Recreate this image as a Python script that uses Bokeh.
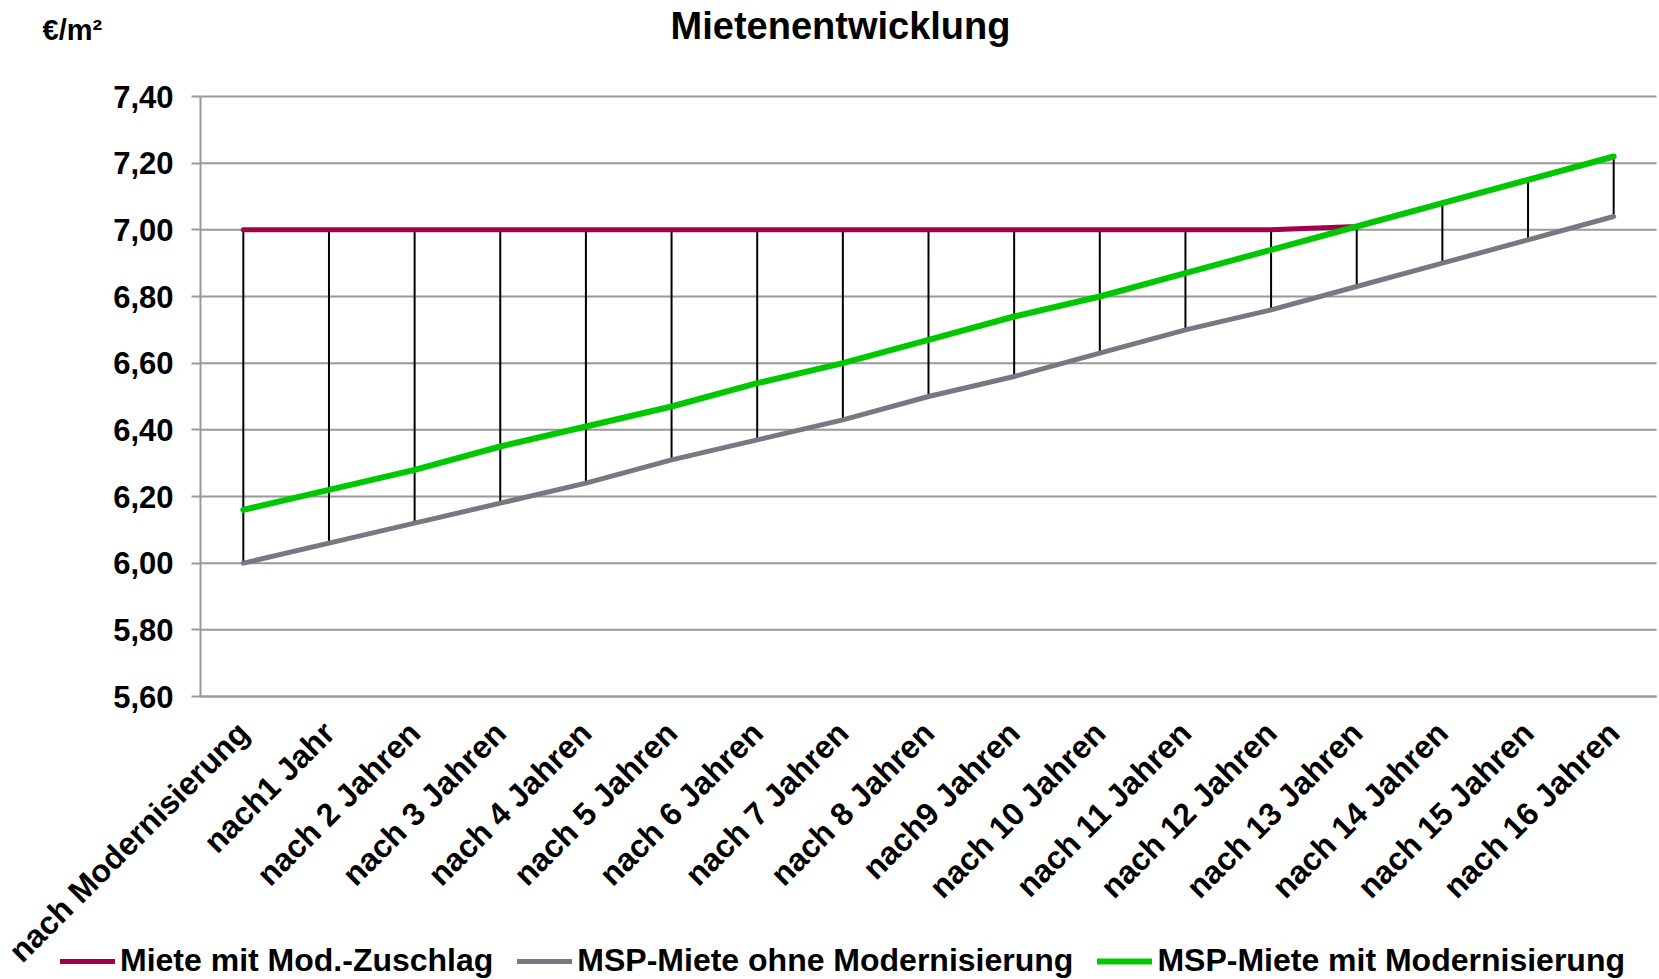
import numpy as np
from bokeh.plotting import figure
from bokeh.models import (Range1d, FixedTicker, CustomJSTickFormatter, Label,
                          Legend, LegendItem)
from bokeh.embed import file_html
from bokeh.resources import INLINE

# Mietenentwicklung in €/m² über 16 Jahre
categories = ["nach Modernisierung", "nach1 Jahr", "nach 2 Jahren", "nach 3 Jahren",
              "nach 4 Jahren", "nach 5 Jahren", "nach 6 Jahren", "nach 7 Jahren",
              "nach 8 Jahren", "nach9 Jahren", "nach 10 Jahren", "nach 11 Jahren",
              "nach 12 Jahren", "nach 13 Jahren", "nach 14 Jahren", "nach 15 Jahren",
              "nach 16 Jahren"]
miete_mod_zuschlag = [7.00, 7.00, 7.00, 7.00, 7.00, 7.00, 7.00, 7.00, 7.00,
                      7.00, 7.00, 7.00, 7.00, 7.01, 7.08, 7.15, 7.22]
msp_ohne_mod = [6.00, 6.06, 6.12, 6.18, 6.24, 6.31, 6.37, 6.43, 6.50,
                6.56, 6.63, 6.70, 6.76, 6.83, 6.90, 6.97, 7.04]
msp_mit_mod = [6.16, 6.22, 6.28, 6.35, 6.41, 6.47, 6.54, 6.60, 6.67,
               6.74, 6.80, 6.87, 6.94, 7.01, 7.08, 7.15, 7.22]
y_ticks = [5.6, 5.8, 6.0, 6.2, 6.4, 6.6, 6.8, 7.0, 7.2, 7.4]

series_names = ["Miete mit Mod.-Zuschlag", "MSP-Miete ohne Modernisierung",
                "MSP-Miete mit Modernisierung"]
series_colors = ["#A3004A", "#787882", "#00C800"]
series_widths = [5, 5, 6]

FONT = "Liberation Sans"
GRID = "#999999"

# page geometry: the drawing frame covers the whole page, the plot area
# (between the axes) sits inside it
W, H = 1659, 979
AREA_L, AREA_R, AREA_T, AREA_B = 200, 1656, 96, 696
Y_MIN, Y_MAX = y_ticks[0], y_ticks[-1]
X_MIN, X_MAX = -0.5, len(categories) - 0.5

px_x = (AREA_R - AREA_L) / (X_MAX - X_MIN)
px_y = (AREA_B - AREA_T) / (Y_MAX - Y_MIN)
x_range = Range1d(X_MIN - AREA_L / px_x, X_MAX + (W - AREA_R) / px_x)
y_range = Range1d(Y_MIN - (H - AREA_B) / px_y, Y_MAX + AREA_T / px_y)

x = np.arange(len(categories))
all_series = np.array([miete_mod_zuschlag, msp_ohne_mod, msp_mit_mod])
high = all_series.max(axis=0)
low = all_series.min(axis=0)

p = figure(width=W, height=H, output_backend="svg", toolbar_location=None,
           title=None, x_range=x_range, y_range=y_range, min_border=0)
p.outline_line_color = None
p.background_fill_color = "white"
p.border_fill_color = "white"
p.xgrid.visible = False
p.ygrid.visible = False

# horizontal grid lines, limited to the plot area
p.segment(x0=X_MIN, x1=X_MAX, y0=y_ticks, y1=y_ticks, line_color=GRID,
          line_width=2, level="underlay")

# high-low lines between the series
p.segment(x0=x, y0=low, x1=x, y1=high, line_color="black", line_width=2)

renderers = []
for vals, col, lw in zip(all_series, series_colors, series_widths):
    r = p.line(x, vals, line_color=col, line_width=lw, line_cap="round",
               line_join="round")
    renderers.append(r)

# y axis, pinned to the left edge of the plot area
p.yaxis.fixed_location = X_MIN
p.yaxis.bounds = (Y_MIN, Y_MAX)
p.yaxis.ticker = FixedTicker(ticks=y_ticks)
p.yaxis.formatter = CustomJSTickFormatter(code="return tick.toFixed(2).replace('.', ',');")
p.yaxis.major_label_text_font = FONT
p.yaxis.major_label_text_font_style = "bold"
p.yaxis.major_label_text_font_size = "31px"
p.yaxis.major_label_text_color = "black"
p.yaxis.major_label_standoff = 18
p.yaxis.axis_line_color = GRID
p.yaxis.axis_line_width = 2
p.yaxis.major_tick_line_color = GRID
p.yaxis.major_tick_line_width = 2
p.yaxis.major_tick_out = 9
p.yaxis.major_tick_in = 0
p.yaxis.minor_tick_line_color = None

# x axis with category labels, pinned to the bottom of the plot area
p.xaxis.fixed_location = Y_MIN
p.xaxis.bounds = (X_MIN, X_MAX)
p.xaxis.ticker = FixedTicker(ticks=list(x))
p.xaxis.major_label_overrides = {int(i): c for i, c in zip(x, categories)}
p.xaxis.major_label_orientation = np.pi / 4
p.xaxis.major_label_text_font = FONT
p.xaxis.major_label_text_font_style = "bold"
p.xaxis.major_label_text_font_size = "32px"
p.xaxis.major_label_text_color = "black"
p.xaxis.major_label_standoff = 25
p.xaxis.axis_line_color = GRID
p.xaxis.axis_line_width = 2
p.xaxis.major_tick_line_color = None
p.xaxis.minor_tick_line_color = None

# title and unit
p.add_layout(Label(x=840, y=H - 25, x_units="screen", y_units="screen",
                   text="Mietenentwicklung", text_font=FONT, text_font_style="bold",
                   text_font_size="38px", text_align="center",
                   text_baseline="alphabetic", text_color="black"))
p.add_layout(Label(x=42, y=H - 29, x_units="screen", y_units="screen",
                   text="€/m²", text_font=FONT, text_font_style="bold",
                   text_font_size="29px", text_align="left",
                   text_baseline="alphabetic", text_color="black"))

legend = Legend(items=[LegendItem(label=n, renderers=[r])
                       for n, r in zip(series_names, renderers)],
                orientation="horizontal", location=(60, 0),
                glyph_width=55, glyph_height=34, label_height=34,
                label_standoff=5, spacing=24,
                padding=0, margin=0, border_line_color=None,
                background_fill_alpha=0,
                label_text_font=FONT, label_text_font_style="bold",
                label_text_font_size="32px", label_text_color="black")
p.add_layout(legend, "center")

open("out.html", "w").write(file_html(p, INLINE))
